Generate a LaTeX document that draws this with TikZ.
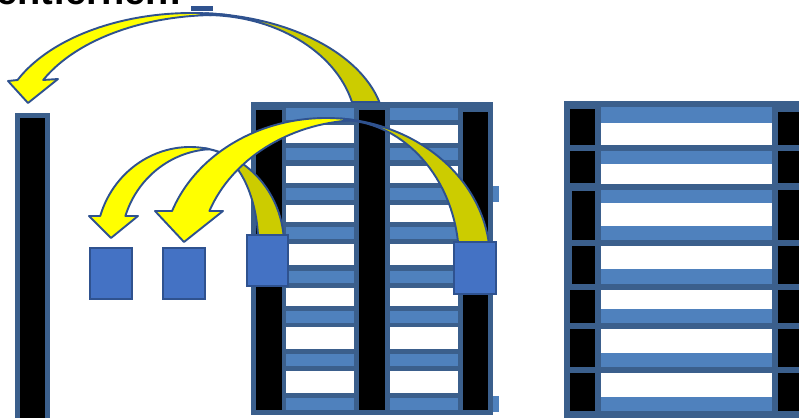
\documentclass[tikz,border=0pt]{standalone}
\usepackage{fontspec}
\setmainfont{Liberation Sans}
\definecolor{frameblue}{HTML}{3B5F8C}
\definecolor{barblue}{HTML}{4F81BD}
\definecolor{sqblue}{HTML}{4472C4}
\definecolor{edgeblue}{HTML}{2F528F}
\definecolor{arrowyellow}{HTML}{FFFF00}
\definecolor{arrowolive}{HTML}{CCCC00}
\begin{document}
\begin{tikzpicture}[x=1pt,y=-1pt,
  frm/.style={fill=frameblue},
  blk/.style={fill=black},
  lb/.style={fill=barblue},
  wb/.style={fill=white},
  sq/.style={fill=sqblue,draw=edgeblue,line width=1.5},
  yel/.style={fill=arrowyellow,draw=edgeblue,line width=1.9,line join=round},
  olv/.style={fill=arrowolive,draw=edgeblue,line width=1.9,line join=round}]
\useasboundingbox (0,0) rectangle (799,417);
\clip (0,0) rectangle (799,417);

% title (cut off at top)
\node[font=\bfseries\fontsize{38}{40}\selectfont,inner sep=0,anchor=base east] (title) at (182,5) {entfernen!};
\fill[fill=edgeblue] (191,6) rectangle (213,11);

% left single bar
\fill[frm] (15,113) rectangle (50,425);
\fill[blk] (20,118) rectangle (45,425);

% small blue boxes
\draw[sq] (90,248) rectangle (132,299);
\draw[sq] (163,248) rectangle (205,299);

% middle structure
\fill[frm] (251,102) rectangle (493,415);
\foreach \a/\b in {256/282,359/385} \fill[blk] (\a,110) rectangle (\b,410);
\fill[blk] (463,112) rectangle (488,410);
\foreach \y in {108,148,188,227,271,311,354,398} {
  \fill[lb] (286,\y) rectangle (354,\y+12);
  \fill[lb] (390,\y) rectangle (458,\y+12);
}
\foreach \y/\h in {125/18,166/17,205/17,244/21,288/18,327/22,371/22} {
  \fill[wb] (286,\y) rectangle (354,\y+\h);
  \fill[wb] (390,\y) rectangle (458,\y+\h);
}
\fill[lb] (493,186) rectangle (499,202);
\fill[lb] (493,396) rectangle (499,412);

% right structure
\fill[frm] (564,101) rectangle (805,425);
\foreach \a/\b/\c in {109/145/570,151/183/570,191/240/572,246/284/572,290/323/570,329/367/570,373/411/570}
  \fill[blk] (\c,\a) rectangle (595,\b);
\foreach \a/\b in {112/145,151/183,190/240,246/284,290/323,329/367,373/411}
  \fill[blk] (778,\a) rectangle (805,\b);
\foreach \a/\b in {107/123,151/164,190/203,226/240,269/284,309/323,353/367,397/411}
  \fill[lb] (601,\a) rectangle (772,\b);
\foreach \a/\b in {123/145,164/184,203/226,246/269,290/309,329/353,373/397}
  \fill[wb] (601,\a) rectangle (772,\b);

% big arrow A (middle column -> left bar)
\draw[olv] ([shift={(192,130)}]346.15:193 and 117) arc[start angle=346.15,end angle=273.86,x radius=193,y radius=117]
  -- ([shift={(205,130)}]270:151.5 and 115) arc[start angle=270,end angle=345.9,x radius=151.5,y radius=115] -- cycle;
\draw[yel] (8,81) -- ([shift={(192,130)}]205.3:193 and 117) arc[start angle=205.3,end angle=281.36,x radius=193,y radius=117]
  -- ([shift={(217,130)}]273.86:193 and 115) arc[start angle=273.86,end angle=205.77,x radius=193,y radius=115]
  -- (58,79) -- (28,103) -- cycle;

% arrow C (left square -> box 1)
\draw[olv] ([shift={(190,245)}]354.14:94 and 98) arc[start angle=354.14,end angle=279.18,x radius=94,y radius=98]
  -- ([shift={(205,245)}]270:53.3 and 96) arc[start angle=270,end angle=354.02,x radius=53.3,y radius=96] -- cycle;
\draw[yel] (89,216) -- ([shift={(190,245)}]197.21:94 and 98) arc[start angle=197.21,end angle=281.66,x radius=94,y radius=98]
  -- ([shift={(215,245)}]266.34:94 and 96) arc[start angle=266.34,end angle=197.58,x radius=94,y radius=96]
  -- (138,216) -- (111,238) -- cycle;

% arrow B (right square -> box 2)
\draw[olv] ([shift={(326,260)}]352.72:164 and 142) arc[start angle=352.72,end angle=274.9,x radius=164,y radius=142]
  -- ([shift={(340,260)}]270:119 and 140) arc[start angle=270,end angle=352.61,x radius=119,y radius=140] -- cycle;
\draw[yel] (155,211) -- ([shift={(326,260)}]200.19:164 and 142) arc[start angle=200.19,end angle=279.47,x radius=164,y radius=142]
  -- ([shift={(363,260)}]266.5:164 and 140) arc[start angle=266.5,end angle=200.49,x radius=164,y radius=140]
  -- (223,211) -- (184,242) -- cycle;

% blue squares on the structure
\draw[sq] (247,235) rectangle (288,286);
\draw[sq] (454,242) rectangle (496,294);
\end{tikzpicture}
\end{document}
